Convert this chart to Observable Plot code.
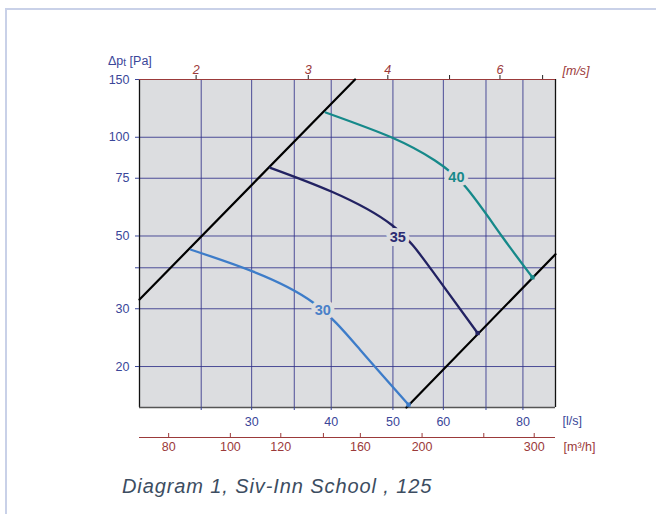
<!DOCTYPE html>
<html><head><meta charset="utf-8">
<script src="https://cdn.jsdelivr.net/npm/d3@7"></script>
<script src="https://cdn.jsdelivr.net/npm/@observablehq/plot@0.6"></script>
<style>
body{margin:0;background:#fff;}
#wrap{position:relative;width:656px;height:514px;overflow:hidden;font-family:"Liberation Sans",Arial,sans-serif;}
#border{position:absolute;left:5px;top:8px;width:720px;height:620px;border-top:2px solid #c9d1e8;border-left:2px solid #c9d1e8;}
#chart{position:absolute;left:0;top:0;}
#ylab{position:absolute;left:108px;top:54px;font-size:12.5px;color:#3a4699;white-space:nowrap;}
#ylab sub{font-size:10px;position:relative;top:1px;vertical-align:baseline;}
#caption{position:absolute;left:122px;top:475px;font-size:20px;letter-spacing:0.9px;font-style:italic;color:#3c4d61;white-space:nowrap;}
</style></head><body>
<div id="wrap"><div id="border"></div><div id="chart"></div>
<div id="ylab">Δp<sub>t</sub> [Pa]</div>
<div id="caption">Diagram 1, Siv-Inn School , 125</div></div>
<script>
// Axis ticks
const xGrid = [25, 30, 35, 40, 50, 60, 70, 80];          // l/s
const xLabels = [30, 40, 50, 60, 80];
const yGrid = [20, 30, 40, 50, 75, 100];                 // Pa
const yTicks = [20, 30, 40, 50, 75, 100, 150];
const yLabels = [20, 30, 50, 75, 100, 150];
const m3hTicks = [80, 100, 120, 140, 160, 200, 250, 300]; // m3/h
const m3hLabels = [80, 100, 120, 160, 200, 300];
const msTicks = [2, 3, 4, 5, 6, 7];                       // m/s
const msLabels = [2, 3, 4, 6];
const DUCT_AREA = Math.PI * 0.0625 * 0.0625;              // Ø125 duct, m²

// Sound level curves (dB(A))
const levels = ["30", "35", "40"];
const q30 = [24.1, 30.1, 37.5, 44.4, 52.9];
const p30 = [45.4, 39.0, 31.3, 22.5, 15.3];
const q35 = [32.1, 40.1, 49.8, 57.5, 67.9];
const p35 = [80.7, 68.2, 54.0, 39.4, 25.3];
const q40 = [39.2, 50.0, 58.2, 65.0, 74.1, 82.8];
const p40 = [119, 99.5, 85.0, 70.6, 50.0, 37.4];
const labelQ = [38.8, 50.9, 62.9];
const labelP = [29.7, 49.6, 75.2];
const lineColors = ["#3d7cc9", "#222262", "#16898a"];
const textColors = ["#4a80c8", "#2b2b72", "#16898a"];

// Operating limit lines
const limitLowQ = [20, 43.6], limitLowP = [32, 150];
const limitHighQ = [52.5, 90], limitHighP = [15, 44];

const curveQ = [q30, q35, q40], curveP = [p30, p35, p40];
const curves = levels.flatMap((lv, i) => curveQ[i].map((q, j) => ({level: lv, q, p: curveP[i][j], color: lineColors[i]})));
const ends = levels.map((lv, i) => ({q: curveQ[i].at(-1), p: curveP[i].at(-1), color: lineColors[i]}));
const labels = levels.map((lv, i) => ({text: lv, q: labelQ[i], p: labelP[i], color: textColors[i]}));
const limits = [
  ...limitLowQ.map((q, j) => ({id: "low", q, p: limitLowP[j]})),
  ...limitHighQ.map((q, j) => ({id: "high", q, p: limitHighP[j]}))
];

const BLUE = "#3a4699", RED = "#9b3a3a", GRID = "#32328a", BG = "#dcdde0";
const FS = 12.5;

const chart = Plot.plot({
  width: 656, height: 468,
  marginLeft: 139, marginRight: 101, marginTop: 79, marginBottom: 61,
  x: {type: "log", domain: [20, 90], axis: null},
  y: {type: "log", domain: [15, 150], axis: null},
  color: {type: "identity"},
  style: {fontFamily: "'Liberation Sans', Arial, sans-serif", background: "transparent", overflow: "visible"},
  marks: [
    Plot.frame({fill: BG, stroke: null}),
    Plot.ruleX(xGrid, {stroke: GRID, strokeWidth: 1, strokeOpacity: 0.85}),
    Plot.ruleY(yGrid, {stroke: GRID, strokeWidth: 1, strokeOpacity: 0.85}),
    // frame edges
    Plot.ruleX([20], {stroke: "#111", strokeWidth: 1.3}),
    Plot.ruleX([90], {stroke: "#111", strokeWidth: 1.3}),
    Plot.ruleY([15], {stroke: "#555", strokeWidth: 1.6}),
    Plot.ruleY([150], {stroke: RED, strokeWidth: 1.2}),
    // limit lines
    Plot.line(limits, {x: "q", y: "p", z: "id", stroke: "#000", strokeWidth: 2.2}),
    // curves
    Plot.line(curves, {x: "q", y: "p", z: "level", stroke: "color", strokeWidth: 2.3, curve: "natural"}),
    Plot.dot(ends, {x: "q", y: "p", fill: "color", symbol: "square", r: 2.4}),
    Plot.text(labels, {x: "q", y: "p", text: "text", fill: "color", stroke: BG, strokeWidth: 8, fontWeight: "bold", fontSize: 14.5}),
    // left axis
    Plot.tickY(yTicks, {y: d => d, stroke: BLUE, insetLeft: -4, insetRight: 416}),
    Plot.text(yLabels, {y: d => d, frameAnchor: "left", dx: -10, textAnchor: "end", text: d => String(d), fill: BLUE, fontSize: FS}),
    // bottom l/s axis
    Plot.tickX(xGrid, {x: d => d, stroke: BLUE, insetTop: 328, insetBottom: -3}),
    Plot.text(xLabels, {x: d => d, frameAnchor: "bottom", dy: 18, text: d => String(d), fill: BLUE, fontSize: FS}),
    Plot.text(["[l/s]"], {frameAnchor: "bottom-right", dx: 7, dy: 17, textAnchor: "start", fill: BLUE, fontSize: FS}),
    // m3/h axis
    Plot.ruleY([15], {stroke: RED, strokeWidth: 1.2, dy: 30}),
    Plot.tickX(m3hTicks, {x: d => d / 3.6, stroke: RED, insetTop: 324, dy: 30}),
    Plot.text(m3hLabels, {x: d => d / 3.6, frameAnchor: "bottom", dy: 43, text: d => String(d), fill: RED, fontSize: FS}),
    Plot.text(["[m³/h]"], {frameAnchor: "bottom-right", dx: 8, dy: 43, textAnchor: "start", fill: RED, fontSize: FS}),
    // top m/s axis
    Plot.tickX(msTicks, {x: d => d * DUCT_AREA * 1000, stroke: "#222", insetTop: -4, insetBottom: 328}),
    Plot.text(msLabels, {x: d => d * DUCT_AREA * 1000, frameAnchor: "top", dy: -14, text: d => String(d), fill: RED, fontStyle: "italic", fontSize: FS}),
    Plot.text(["[m/s]"], {frameAnchor: "top-right", dx: 7, dy: -13, textAnchor: "start", fill: RED, fontStyle: "italic", fontSize: FS})
  ]
});
document.getElementById("chart").append(chart);
</script>
</body></html>
